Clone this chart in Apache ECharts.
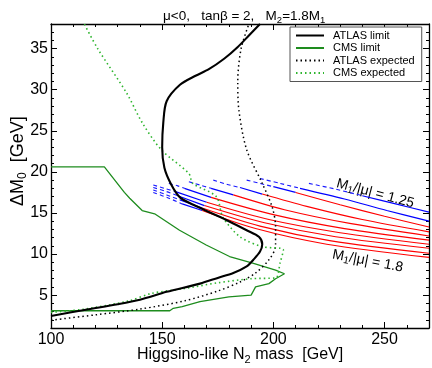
<!DOCTYPE html>
<html>
<head>
<meta charset="utf-8">
<script src="https://cdn.jsdelivr.net/npm/echarts@6/dist/echarts.min.js"></script>
<style>
  html, body { margin: 0; padding: 0; background: #fff; }
  #chart { width: 432px; height: 368px; }
</style>
</head>
<body>
<div id="chart"></div>
<script>
// curve data [N2 mass, DeltaM0]
var atlasLimit = [[100,2.45],[115,3.2],[130,3.9],[140,4.45],[152,5.4],[167,6.4],[175,7.1],[182,7.7],[188,8.5],[191,9.3],[194,10.3],[195,11.2],[193.5,12.1],[188,12.9],[180,14],[172,15],[164,16],[158,16.9],[154,18.5],[151,20.5],[150,23],[150.5,26],[152,28.6],[158,30.6],[165,31.7],[171,32.5],[178,33.8],[184,35.2],[189,36.6],[194,38]];
var cmsLimit = [[100,20.6],[124,20.6],[133,17.5],[135.4,16.8],[141,15.3],[146.6,14.9],[157.8,12.9],[169.8,11.1],[180.3,9.7],[190.7,8.9],[201,8.05],[205,7.6],[201,7.0],[198,6.4],[192,6.0],[190,5.0],[180,4.8],[167,4.2],[159,3.6],[155,3.4],[153.4,3.1],[100,3.1]];
var atlasExpected = [[100,1.95],[120,2.6],[140,3.3],[160,4.3],[175,5.5],[185,6.6],[192,7.7],[198,9.3],[201,11],[201,13.3],[199.5,15.7],[195,18.6],[188,22.7],[184.5,27.5],[184,31],[185.5,35],[189,38]];
var cmsExpected = [[100,2.9],[115,3.3],[135,4.3],[145,5.2],[160,5.8],[175,6.5],[190,7.0],[201,7.1],[203,8.9],[204.5,10.5],[195,10.9],[185,12.1],[177.3,14.5],[174.3,17],[163.8,18.6],[162,19.8],[149.6,22.7],[141,26],[134,29.6],[121,35],[115,38]];

// M1/|mu| scan lines (top = 1.25, bottom = 1.8): dashed blue, solid blue, solid red parts
var scanDashed = [
  [[216,18.6],[228,17.9],[240,17.1]],
  [[194,19.2],[203,18.6],[212,18.0]],
  [[188,19.0],[194,18.6],[200,18.2]],
  [[173,19.0],[179,18.5],[185,18.1]],
  [[162,18.8],[167,18.4],[172,18.0]],
  [[153,18.6],[157,18.3],[160,18.0]],
  [[146,18.4],[151,18.0],[156,17.6]],
  [[146,18.1],[152,17.6],[157,17.1]],
  [[146,17.8],[152,17.2],[158,16.6]],
  [[146,17.5],[153,16.8],[159,16.1]]
];
var scanBlue = [
  [[240,17.1],[255,16.1],[270,15.1]],
  [[212,18.0],[232,16.7],[251,15.3],[270,14.0]],
  [[200,18.2],[210,17.5]],
  [[185,18.1],[195,17.3]],
  [[172,18.0],[182,17.2]],
  [[160,18.0],[172,16.9]],
  [[156,17.6],[170,16.3]],
  [[157,17.1],[169,15.9]],
  [[158,16.6],[168,15.6]],
  [[159,16.1],[168,15.3]]
];
var scanRed = [
  [],
  [],
  [[210,17.5],[230,16.0],[250,14.6],[270,13.3]],
  [[195,17.3],[215,15.8],[240,14.2],[270,12.7]],
  [[182,17.2],[205,15.4],[235,13.7],[270,12.2]],
  [[172,16.9],[200,14.8],[232,13.1],[270,11.7]],
  [[170,16.3],[198,14.2],[230,12.6],[270,11.2]],
  [[169,15.9],[196,13.8],[228,12.1],[270,10.7]],
  [[168,15.6],[194,13.4],[226,11.6],[270,10.1]],
  [[168,15.3],[192,13.1],[224,11.2],[270,9.6]]
];

var xMajorTicks = [100, 150, 200, 250];
var yMajorTicks = [5, 10, 15, 20, 25, 30, 35];

var FONT = 'Liberation Sans, Arial, sans-serif';
var GREEN = '#1e8c1e';
var GREEN_DOT = '#2fb52f';

var chart = echarts.init(document.getElementById('chart'));

function lineSeries(name, data, color, width, type, z) {
  return {
    name: name, type: 'line', data: data, showSymbol: false, symbol: 'none',
    smooth: 0.3, z: z || 3, silent: true, animation: false,
    lineStyle: { color: color, width: width, type: type || 'solid' },
    itemStyle: { color: color }
  };
}

var series = [];
scanDashed.forEach(function (d) { series.push(lineSeries('', d, '#1a1aff', 1.1, [4, 3], 2)); });
scanBlue.forEach(function (d) { series.push(lineSeries('', d, '#0000ff', 1.2, 'solid', 2)); });
scanRed.forEach(function (d) { series.push(lineSeries('', d, '#ff0000', 1.1, 'solid', 2)); });
series.push(lineSeries('CMS limit', cmsLimit, GREEN, 1.3, 'solid', 4));
series[series.length - 1].smooth = false;
series.push(lineSeries('ATLAS expected', atlasExpected, '#000', 1.5, [1.5, 3], 4));
series.push(lineSeries('CMS expected', cmsExpected, GREEN_DOT, 1.6, [1.5, 3], 4));
series.push(lineSeries('ATLAS limit', atlasLimit, '#000', 2.1, 'solid', 5));

function xAx(pos, major) {
  return {
    type: 'value', position: pos, min: 100, max: 270, interval: major ? 50 : 10,
    axisLine: { show: major, lineStyle: { color: '#000', width: 1.3 } },
    axisTick: { show: true, inside: true, length: major ? 6 : 3, lineStyle: { color: '#000', width: 1 } },
    axisLabel: { show: major && pos === 'bottom', fontSize: 16, color: '#000', fontFamily: FONT, margin: 4, customValues: xMajorTicks },
    splitLine: { show: false }
  };
}
function yAx(pos, major) {
  var ax = {
    type: 'value', position: pos, min: 1, max: 38, interval: 1,
    axisLine: { show: major, onZero: false, lineStyle: { color: '#000', width: 1.3 } },
    axisTick: { show: true, inside: true, length: major ? 6 : 3, lineStyle: { color: '#000', width: 1 } },
    axisLabel: { show: major && pos === 'left', fontSize: 16, color: '#000', fontFamily: FONT, margin: 3 },
    splitLine: { show: false }
  };
  if (major) {
    ax.axisTick.customValues = yMajorTicks;
    ax.axisLabel.customValues = yMajorTicks;
  }
  return ax;
}

function sub(big, small, lh) {
  return {
    n: { fontSize: big, fontFamily: FONT, fontWeight: 'normal', color: '#000', lineHeight: lh },
    s: { fontSize: small, fontFamily: FONT, fontWeight: 'normal', color: '#000', verticalAlign: 'bottom', lineHeight: lh }
  };
}

var option = {
  backgroundColor: '#fff',
  animation: false,
  textStyle: { fontFamily: FONT },
  grid: { left: 51, right: 3, top: 24, bottom: 40, containLabel: false },
  title: {
    text: '{n|μ<0,   tanβ = 2,   M}{s|2}{n|=1.8M}{s|1}',
    left: 158, top: 2,
    textStyle: { fontWeight: 'normal', rich: sub(13.5, 9.5, 18) }
  },
  legend: {
    orient: 'vertical', left: 290, top: 27,
    padding: [3, 7, 3, 5], itemGap: 1.5, itemWidth: 28, itemHeight: 11,
    borderColor: '#555', borderWidth: 1, backgroundColor: '#fff',
    itemStyle: { opacity: 0 },
    textStyle: { fontSize: 11, color: '#000', fontFamily: FONT, padding: [0, 0, 0, 4] },
    data: ['ATLAS limit', 'CMS limit', 'ATLAS expected', 'CMS expected']
  },
  xAxis: [xAx('bottom', true), xAx('bottom', false), xAx('top', true), xAx('top', false)],
  yAxis: [yAx('left', true), yAx('left', false), yAx('right', true), yAx('right', false)],
  graphic: [
    {
      type: 'text', x: 8, y: 206, rotation: Math.PI / 2,
      style: { text: '{n|ΔM}{s|0}{n|  [GeV]}', fill: '#000', rich: sub(18, 12, 21) }
    },
    {
      type: 'text', x: 137, y: 345,
      style: { text: '{n|Higgsino-like N}{s|2}{n| mass  [GeV]}', fill: '#000', rich: sub(16, 11, 20) }
    },
    {
      type: 'text', x: 339, y: 175, rotation: -0.26,
      style: { text: '{n|M}{s|1}{n|/|μ| = 1.25}', fill: '#000', rich: sub(14, 10, 17) }
    },
    {
      type: 'text', x: 334, y: 246, rotation: -0.19,
      style: { text: '{n|M}{s|1}{n|/|μ| = 1.8}', fill: '#000', rich: sub(14, 10, 17) }
    }
  ],
  series: series
};

chart.setOption(option);
</script>
</body>
</html>
